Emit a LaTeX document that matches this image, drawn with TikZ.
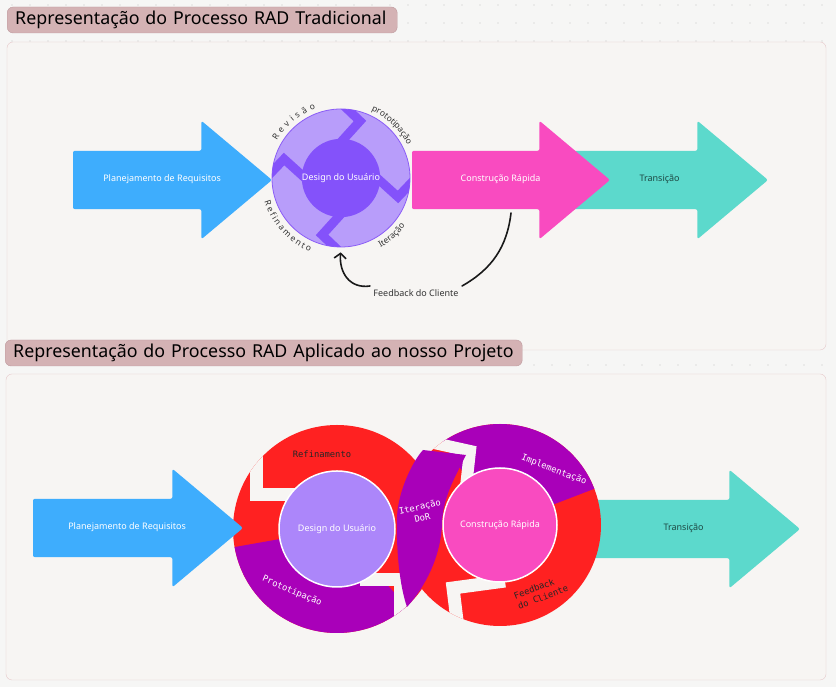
\documentclass[tikz,border=0pt]{standalone}
\usepackage{fontspec}
\setmainfont{Noto Sans}
\setmonofont{DejaVu Sans Mono}
\usetikzlibrary{arrows.meta,calc,shapes.arrows,decorations.text}
\definecolor{pagebg}{HTML}{F6F6F5}
\definecolor{dotgray}{HTML}{C4C4C4}
\definecolor{paper}{HTML}{F7F5F3}
\definecolor{frame}{HTML}{E6C8CA}
\definecolor{titlebg}{HTML}{D4B2B4}
\definecolor{titleline}{HTML}{BE9A9E}
\definecolor{reqblue}{HTML}{3EADFD}
\definecolor{buildpink}{HTML}{F94BC0}
\definecolor{transteal}{HTML}{5CD9CC}
\definecolor{transtext}{HTML}{1D4944}
\definecolor{lilac}{HTML}{B89DFA}
\definecolor{violet}{HTML}{8452FA}
\definecolor{violetline}{HTML}{8A5CF6}
\definecolor{ringred}{HTML}{FF2121}
\definecolor{ringpurple}{HTML}{A900B9}
\definecolor{softlilac}{HTML}{AC86FA}
\newcommand\arcfont{\color{black!80}\fontsize{8.5}{9}\selectfont}

\begin{document}
\begin{tikzpicture}[x=1pt,y=1pt,line cap=round,font=\fontsize{9}{11}\selectfont,
  flowarrow/.style={single arrow,single arrow head extend=30pt,single arrow tip angle=80,
    rounded corners=2pt,minimum width=0pt,inner xsep=0pt,inner ysep=25pt,outer sep=0pt,
    text height=6pt,text depth=2pt,anchor=tip},
  titlebox/.style={fill=titlebg,draw=titleline,rounded corners=6pt,inner xsep=8pt,
    minimum height=26pt,align=left,anchor=west,font=\fontsize{17.8}{20}\selectfont},
  panel/.style={draw=frame,fill=paper,rounded corners=6pt},
  hub/.style={circle,inner sep=0pt,text=white},
  ringtag/.style={font=\ttfamily\fontsize{8.8}{11}\selectfont},
  gap/.style={paper,line width=13pt,line join=miter,line cap=butt},
  arctext/.style={decorate,decoration={text along path,text={|\arcfont|#1}}}]
\useasboundingbox (0,0) rectangle (836,687);
\fill[pagebg] (0,0) rectangle (836,687);
\foreach \i in {0,...,45}
  \foreach \j in {0,...,37}
    \fill[dotgray] (12+18*\i,682-18*\j) circle (0.6);
\draw[panel] (7,337) rectangle (826,645);
\draw[panel] (6,7) rectangle (826,313);
\node[titlebox,text width=374pt] (head1) at (7,667) {\mbox{Representação do Processo RAD Tradicional}};
\node[titlebox,text width=501pt] (head2) at (5,334) {\mbox{Representação do Processo RAD Aplicado ao nosso Projeto}};

\coordinate (c1) at (341,509);
\node[flowarrow,fill=transteal,text=transtext,minimum height=210pt] (trans1) at (768,507) {\hspace*{28pt}Transição};
\node[flowarrow,fill=buildpink,text=white,minimum height=198pt] (build1) at (610,507) {\hspace*{14pt}Construção Rápida};
\node[flowarrow,fill=reqblue,text=white,minimum height=199pt] (plan1) at (272,507) {\hspace*{14pt}Planejamento de Requisitos};
\node[circle,inner sep=0pt,minimum size=138pt,fill=lilac,draw=violetline,line width=0.8pt] (cyc1) at (c1) {};
\begin{scope}
\clip (c1) circle (69);
\foreach \a in {0,90,180,270}
  \draw[violet,line width=9pt,line join=miter,line cap=butt] ($(c1)+(90-\a:75)$) -- ($(c1)+(71.6-\a:60)$) -- ($(c1)+(90-\a:36)$);
\end{scope}
\node[hub,fill=violet,minimum size=78pt] (des1) at (c1) {Design do Usuário};
\path[arctext={Revisão},decoration={text align=fit to path}] ($(c1)+(150:74)$) arc[start angle=150,end angle=110,radius=74];
\path[arctext={prototipação},decoration={text align=center}] ($(c1)+(74:74)$) arc[start angle=74,end angle=18,radius=74];
\path[arctext={Refinamento},decoration={text align=fit to path}] ($(c1)+(197:80)$) arc[start angle=197,end angle=247,radius=80];
\path[arctext={Iteração},decoration={text align=center}] ($(c1)+(293:80)$) arc[start angle=293,end angle=330,radius=80];
\coordinate (fbstart) at (511,474);
\node[text=black!80] (fbtag) at (416,394) {Feedback do Cliente};
\draw[line width=1.6pt,black!90] (fbstart) .. controls (507,440) and (492,418) .. (fbtag.north east);
\draw[line width=1.6pt,black!90,shorten >=5pt,-{Straight Barb[length=5pt,width=12pt]}] (fbtag.north west) .. controls (350,398) and (339,414) .. (cyc1.south);

\coordinate (c2) at (337,158);
\coordinate (c3) at (500,162);
\node[flowarrow,fill=transteal,text=transtext,minimum height=210pt] (trans2) at (800,158) {\hspace*{12pt}Transição};
\fill[ringred] (c2) circle (104);
\fill[ringpurple] (c2) -- ($(c2)+(190:104)$) arc[start angle=190,end angle=312,radius=104] -- cycle;
\begin{scope}
\clip (c2) circle (104);
\draw[gap] (256,250) -- (256,192) -- (300,192);
\draw[gap] (360,107) -- (400,107) -- (400,37);
\end{scope}
\fill[ringred] (c3) circle (101);
\fill[ringpurple] (c3) -- ($(c3)+(21:101)$) arc[start angle=21,end angle=125,radius=101] -- cycle;
\begin{scope}
\clip (c3) circle (101);
\draw[gap,line width=12pt] (425,246) -- (470,236) -- (466,200);
\draw[gap] (505,106) -- (453,99) -- (459,50);
\end{scope}
\fill[ringpurple] (423,237) -- (466,232) .. controls (455,210) and (443,190) .. (442,164) .. controls (441,130) and (425,100) .. (407,80) .. controls (400,100) and (396,135) .. (397,170) .. controls (398,195) and (412,225) .. (423,237) -- cycle;
\node[hub,fill=softlilac,draw=white,line width=1.5pt,minimum size=116pt] (des2) at (c2) {Design do Usuário};
\node[hub,fill=buildpink,draw=white,line width=1.5pt,minimum size=114pt] (build2) at (c3) {Construção Rápida};
\node[flowarrow,fill=reqblue,text=white,minimum height=210pt] (plan2) at (243,159) {\hspace*{13pt}Planejamento de Requisitos};
\node[ringtag,text=black!85] (refine) at (322,233) {Refinamento};
\node[ringtag,text=white,rotate=-23] (proto) at (292,96) {Prototipação};
\node[ringtag,text=white,rotate=13,align=center] (iter) at (421,175) {Iteração\\DoR};
\node[ringtag,text=white,rotate=-21] (impl) at (554,217) {Implementação};
\node[ringtag,text=black!85,rotate=21,align=left] (feedback) at (541,95) {Feedback\\do Cliente};
\end{tikzpicture}
\end{document}
